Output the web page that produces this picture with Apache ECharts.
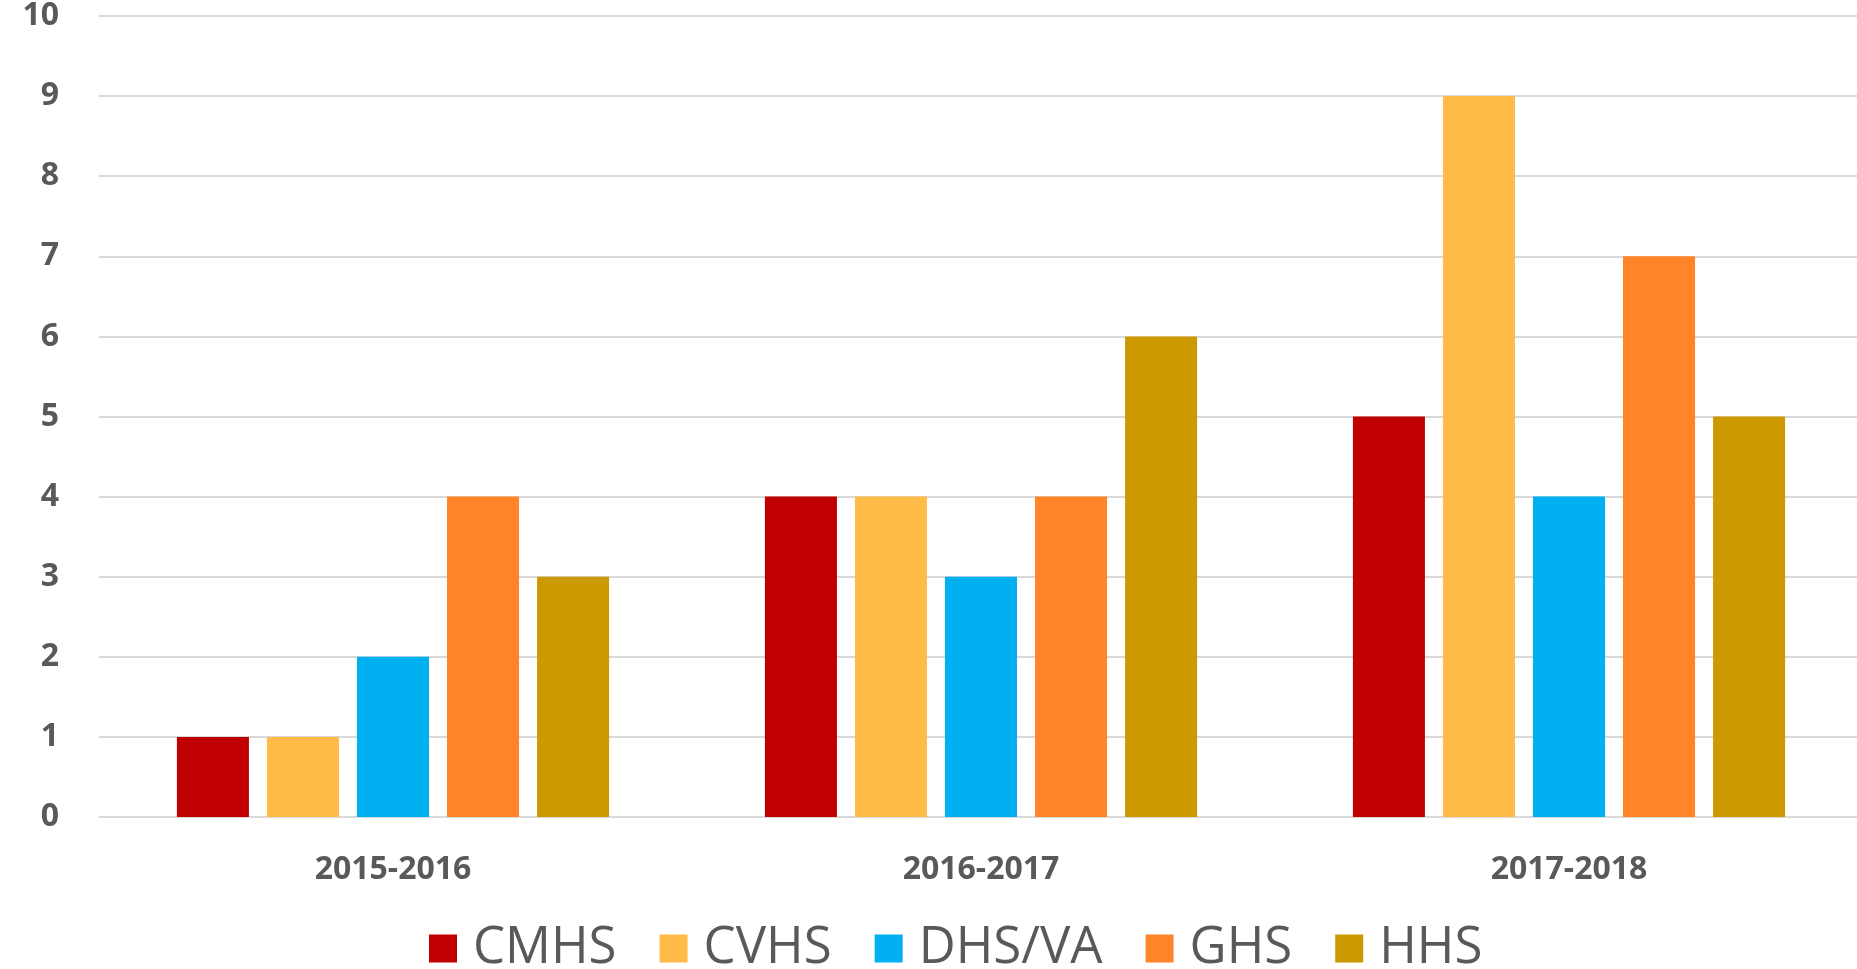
<!DOCTYPE html>
<html>
<head>
<meta charset="utf-8">
<script src="https://cdn.jsdelivr.net/npm/echarts@6/dist/echarts.min.js"></script>
<style>
  html, body { margin: 0; padding: 0; background: #fff; overflow: hidden; }
  /* plot area runs a few px past the right edge, like the original */
  #main { width: 1863px; height: 969px; }
</style>
</head>
<body>
<div id="main"></div>
<script>
// data
var years = ['2015-2016', '2016-2017', '2017-2018'];
var schools = ['CMHS', 'CVHS', 'DHS/VA', 'GHS', 'HHS'];
var cmhs = [1, 4, 5];
var cvhs = [1, 4, 9];
var dhsva = [2, 3, 4];
var ghs = [4, 4, 7];
var hhs = [3, 6, 5];
var colors = ['#C00000', '#FFBB47', '#00B0F0', '#FF8528', '#CC9900'];

var values = [cmhs, cvhs, dhsva, ghs, hhs];
var textColor = '#595959';

var myChart = echarts.init(document.getElementById('main'));
window.onresize = myChart.resize;

myChart.setOption({
    animation: false,
    color: colors,
    grid: {
        left: 99,
        right: 0,
        top: 16,
        bottom: 152
    },
    legend: {
        left: 424,
        top: 918,
        itemWidth: 28,
        itemHeight: 28,
        itemGap: 43,
        icon: 'rect',
        textStyle: {
            color: textColor,
            fontSize: 51,
            fontFamily: 'Open Sans',
            padding: [0, 0, 0, 11]
        },
        data: schools
    },
    xAxis: {
        type: 'category',
        data: years,
        axisLine: { show: true, lineStyle: { color: '#D9D9D9', width: 2 } },
        axisTick: { show: false },
        axisLabel: {
            color: textColor,
            fontSize: 32,
            fontWeight: 'bold',
            fontFamily: 'Open Sans',
            margin: 37
        }
    },
    yAxis: {
        type: 'value',
        min: 0,
        max: 10,
        interval: 1,
        axisLine: { show: false },
        axisTick: { show: false },
        splitLine: { lineStyle: { color: '#D9D9D9', width: 2 } },
        axisLabel: {
            color: textColor,
            fontSize: 32,
            fontWeight: 'bold',
            fontFamily: 'Open Sans',
            margin: 40
        }
    },
    series: schools.map(function (name, i) {
        return {
            name: name,
            type: 'bar',
            data: values[i],
            barGap: '25%',
            barCategoryGap: '26.5%'
        };
    })
});
</script>
</body>
</html>
